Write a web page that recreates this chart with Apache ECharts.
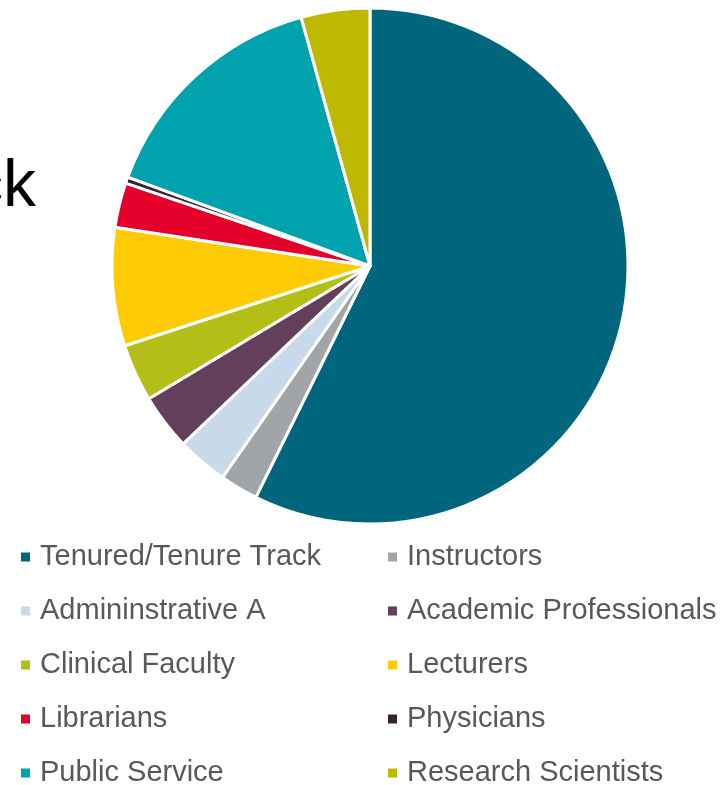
<!DOCTYPE html>
<html>
<head>
<meta charset="utf-8">
<script src="https://cdn.jsdelivr.net/npm/echarts@6/dist/echarts.min.js"></script>
<style>
  html, body { margin: 0; padding: 0; background: #ffffff; }
  #chart { width: 725px; height: 785px; }
</style>
</head>
<body>
<div id="chart"></div>
<script>
// Faculty appointment types, share of total (%)
const categories = [
  'Tenured/Tenure Track', 'Instructors', 'Admininstrative A', 'Academic Professionals',
  'Clinical Faculty', 'Lecturers', 'Librarians', 'Physicians',
  'Public Service', 'Research Scientists'
];
const shares = [57.3, 2.4, 3.2, 3.5, 3.6, 7.4, 2.8, 0.4, 15.1, 4.3];
const colors = [
  '#00667e', '#a1a5a7', '#c8d9ea', '#633f5b',
  '#b5bd17', '#ffcb05', '#e4002b', '#3b2232',
  '#00a3ad', '#bfb800'
];

const leftColumn = categories.filter((_, i) => i % 2 === 0);
const rightColumn = categories.filter((_, i) => i % 2 === 1);

const legendText = {
  color: '#595959',
  fontSize: 29,
  lineHeight: 30,
  padding: [0, 0, 0, 4],
  fontFamily: 'Liberation Sans, Arial, sans-serif'
};

function makeLegend(left, names) {
  return {
    orient: 'vertical',
    left: left,
    top: 542,
    height: 270,
    data: names,
    icon: 'rect',
    itemWidth: 11,
    itemHeight: 11,
    itemGap: 24,
    padding: 0,
    selectedMode: false,
    textStyle: legendText
  };
}

const chart = echarts.init(document.getElementById('chart'), null, { renderer: 'canvas' });
chart.setOption({
  animation: false,
  color: colors,
  graphic: [{
    type: 'text',
    x: 36,
    y: 155,
    style: {
      text: 'ck',
      fontSize: 66,
      fill: '#000000',
      align: 'right',
      fontFamily: 'Liberation Sans, Arial, sans-serif'
    }
  }],
  legend: [makeLegend(19, leftColumn), makeLegend(386, rightColumn)],
  series: [{
    type: 'pie',
    center: [370, 266],
    radius: [0, 258],
    startAngle: 90,
    clockwise: true,
    label: { show: false },
    labelLine: { show: false },
    itemStyle: { borderColor: '#ffffff', borderWidth: 3 },
    emphasis: { disabled: true },
    data: categories.map((name, i) => ({ name: name, value: shares[i] }))
  }]
});
</script>
</body>
</html>
